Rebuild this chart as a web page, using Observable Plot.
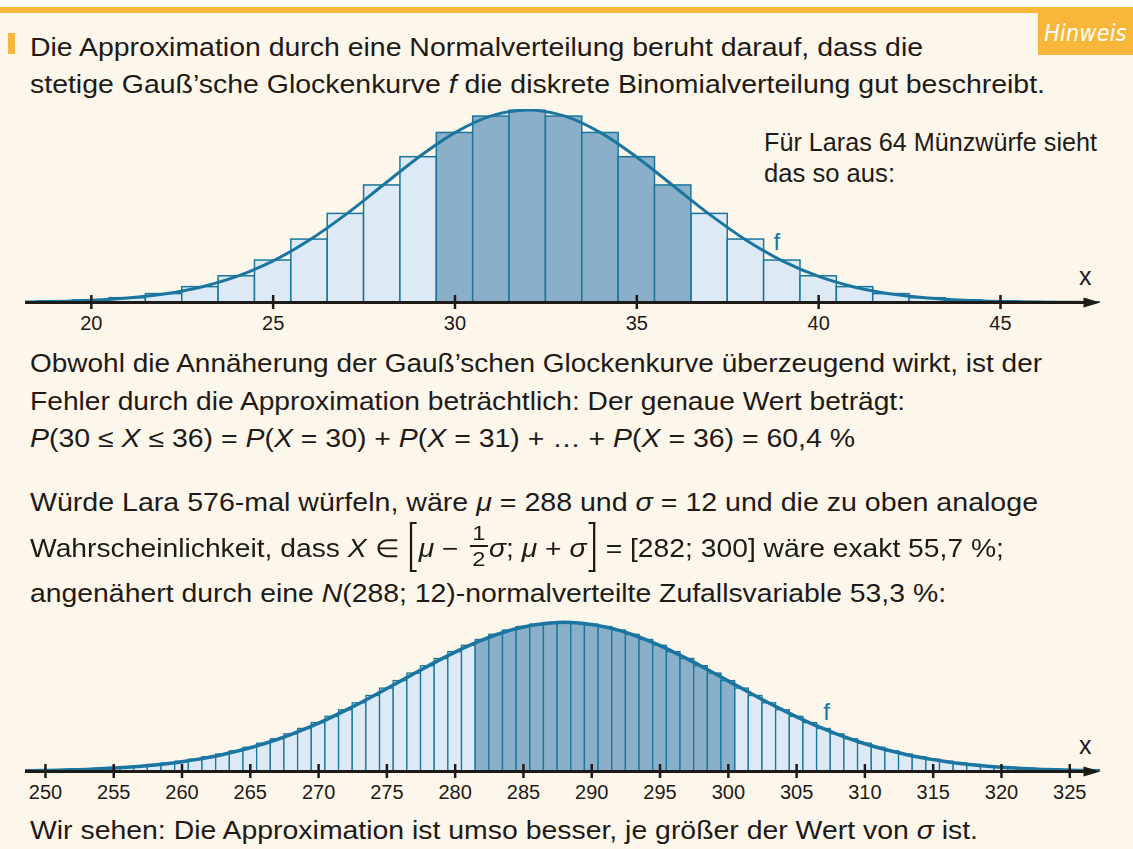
<!DOCTYPE html>
<html lang="de">
<head>
<meta charset="utf-8">
<script src="https://cdn.jsdelivr.net/npm/d3@7"></script>
<script src="https://cdn.jsdelivr.net/npm/@observablehq/plot@0.6"></script>
<style>
  html, body { margin: 0; padding: 0; background: #fdf6ea; }
  #page { position: relative; width: 1133px; height: 849px; overflow: hidden; background: #fdf6ea;
          font-family: "Liberation Sans", Arial, sans-serif; color: #1e1a17; }
  .topwhite { position: absolute; left: 0; top: 0; width: 1133px; height: 7px; background: #fff; }
  .topband { position: absolute; left: 0; top: 7px; width: 1133px; height: 6px; background: #f8b73b; }
  .tag { position: absolute; left: 1038px; top: 7px; width: 95px; height: 48px; background: #f8b73b;
         color: #fff; font-family: "DejaVu Sans Condensed", "DejaVu Sans", sans-serif; font-style: oblique;
         font-size: 23px; line-height: 52px; text-align: center; letter-spacing: 0.3px; }
  .marker { position: absolute; left: 8px; top: 33px; width: 7px; height: 21px; background: #f8b73b; }
  .t { position: absolute; white-space: nowrap; font-size: 25px; line-height: 35px; transform-origin: 0 0; }
  i { font-style: italic; }
  .brk { display: inline-block; position: relative; width: 10px; height: 1px; }
  .brk::before { content: ""; position: absolute; top: -34px; width: 6px; height: 50px; box-sizing: border-box;
                 border: 2.5px solid #1e1a17; }
  .brk.l::before { left: 2px; border-right: none; }
  .brk.r::before { left: 2px; border-left: none; }
  .frac { display: inline-block; position: relative; width: 16px; height: 1px; margin: 0 1px 0 3px; }
  .frac .n, .frac .d { position: absolute; left: 0; width: 100%; text-align: center; font-size: 21px; line-height: 20px; }
  .frac .n { top: -33px; }
  .frac .d { top: -7px; }
  .frac .bar { position: absolute; left: 0; width: 100%; top: -11px; height: 2px; background: #1e1a17; }
  .chart { position: absolute; left: 0; }
</style>
</head>
<body>
<div id="page">
  <div class="topwhite"></div>
  <div class="topband"></div>
  <div class="tag">Hinweis</div>
  <div class="marker"></div>

  <div class="t" style="left:30px;top:30px" data-r="923">Die Approximation durch eine Normalverteilung beruht darauf, dass die</div>
  <div class="t" style="left:30px;top:67px" data-r="1045">stetige Gauß’sche Glockenkurve <i>f</i> die diskrete Binomialverteilung gut beschreibt.</div>

  <div class="t" style="left:764px;top:125px" data-r="1097">Für Laras 64 Münzwürfe sieht</div>
  <div class="t" style="left:764px;top:156px" data-r="895">das so aus:</div>

  <div id="chart1" class="chart" style="top:95px"></div>

  <div class="t" style="left:30px;top:346px" data-r="1042">Obwohl die Annäherung der Gauß’schen Glockenkurve überzeugend wirkt, ist der</div>
  <div class="t" style="left:30px;top:384px" data-r="905">Fehler durch die Approximation beträchtlich: Der genaue Wert beträgt:</div>
  <div class="t" style="left:30px;top:421px" data-r="855"><i>P</i>(30 ≤ <i>X</i> ≤ 36) = <i>P</i>(<i>X</i> = 30) + <i>P</i>(<i>X</i> = 31) + … + <i>P</i>(<i>X</i> = 36) = 60,4 %</div>

  <div class="t" style="left:30px;top:485px" data-r="1038">Würde Lara 576-mal würfeln, wäre <i>μ</i> = 288 und <i>σ</i> = 12 und die zu oben analoge</div>
  <div class="t" style="left:30px;top:531px" data-r="1004">Wahrscheinlichkeit, dass <i>X</i> ∈ <span class="brk l"></span><i>μ</i> − <span class="frac"><span class="n">1</span><span class="bar"></span><span class="d">2</span></span><i>σ</i>; <i>μ</i> + <i>σ</i><span class="brk r"></span> = [282; 300] wäre exakt 55,7 %;</div>
  <div class="t" style="left:30px;top:576px" data-r="946">angenähert durch eine <i>N</i>(288; 12)-normalverteilte Zufallsvariable 53,3 %:</div>

  <div id="chart2" class="chart" style="top:600px"></div>

  <div class="t" style="left:30px;top:813px" data-r="978">Wir sehen: Die Approximation ist umso besser, je größer der Wert von <i>σ</i> ist.</div>
</div>
<script>
// ---------- data: chart 1 (64 coin tosses, n = 64, p = 0.5) ----------
const k1Start = 18;                       // first bar value of X
const p1 = [0.000195, 0.000473, 0.001064, 0.002229, 0.004356, 0.007955, 0.01359, 0.02174,
            0.03261, 0.04590, 0.06065, 0.07529, 0.08784, 0.09634, 0.09935, 0.09634, 0.08784,
            0.07529, 0.06065, 0.04590, 0.03261, 0.02174, 0.01359, 0.007955, 0.004356, 0.002229,
            0.001064, 0.000473, 0.000195];
const f1Start = 17;                       // first sample of Gauss curve f
const f1 = [0.0000882, 0.000218, 0.000507, 0.001108, 0.002273, 0.004383, 0.007935, 0.01350,
            0.02157, 0.03238, 0.04566, 0.06049, 0.07529, 0.08802, 0.09667, 0.09974, 0.09667,
            0.08802, 0.07529, 0.06049, 0.04566, 0.03238, 0.02157, 0.01350, 0.007935, 0.004383,
            0.002273, 0.001108, 0.000507, 0.000218, 0.0000882, 0.0000334];
const dark1 = [30, 36];
const ticks1 = [20, 25, 30, 35, 40, 45];
const xDomain1 = [18.19, 47.75];
const yDomain1 = [0, 0.1];
const fLabel1 = [{x: 38.85, y: 0.031, text: "f"}];

// ---------- data: chart 2 (n = 576, p = 0.5, mu = 288, sigma = 12) ----------
const k2Start = 250;
const p2 = [0.000221, 0.000287, 0.000369, 0.000472, 0.000600, 0.000757, 0.000949, 0.001181,
            0.001460, 0.001792, 0.002184, 0.002644, 0.003178, 0.003794, 0.004497, 0.005295,
            0.006190, 0.007187, 0.008286, 0.009488, 0.01079, 0.01218, 0.01366, 0.01521, 0.01683,
            0.01848, 0.02016, 0.02183, 0.02348, 0.02508, 0.02661, 0.02803, 0.02933, 0.03047,
            0.03143, 0.03221, 0.03277, 0.03311, 0.03323,
            0.03311, 0.03277, 0.03221, 0.03143, 0.03047, 0.02933, 0.02803, 0.02661, 0.02508,
            0.02348, 0.02183, 0.02016, 0.01848, 0.01683, 0.01521, 0.01366, 0.01218, 0.01079,
            0.009488, 0.008286, 0.007187, 0.006190, 0.005295, 0.004497, 0.003794, 0.003178,
            0.002644, 0.002184, 0.001792, 0.001460, 0.001181, 0.000949, 0.000757, 0.000600,
            0.000472, 0.000369, 0.000287, 0.000221];
const f2Start = 248;
const f2 = [0.000129, 0.000169, 0.000221, 0.000287, 0.000369, 0.000473, 0.000600, 0.000758,
            0.000950, 0.001182, 0.001461, 0.001793, 0.002185, 0.002645, 0.003180, 0.003795,
            0.004499, 0.005297, 0.006193, 0.007190, 0.008290, 0.009492, 0.010793, 0.012188,
            0.013668, 0.015221, 0.016834, 0.018488, 0.020164, 0.021841, 0.023493, 0.025095,
            0.026620, 0.028044, 0.029339, 0.030481, 0.031449, 0.032222, 0.032786, 0.033130,
            0.033245,
            0.033130, 0.032786, 0.032222, 0.031449, 0.030481, 0.029339, 0.028044, 0.026620,
            0.025095, 0.023493, 0.021841, 0.020164, 0.018488, 0.016834, 0.015221, 0.013668,
            0.012188, 0.010793, 0.009492, 0.008290, 0.007190, 0.006193, 0.005297, 0.004499,
            0.003795, 0.003180, 0.002645, 0.002185, 0.001793, 0.001461, 0.001182, 0.000950,
            0.000758, 0.000600, 0.000473, 0.000369, 0.000287, 0.000221, 0.000169, 0.000129];
const dark2 = [282, 300];
const ticks2 = [250, 255, 260, 265, 270, 275, 280, 285, 290, 295, 300, 305, 310, 315, 320, 325];
const xDomain2 = [248.54, 327.25];
const yDomain2 = [0, 0.035];
const fLabel2 = [{x: 307.2, y: 0.0133, text: "f"}];

// ---------- styling ----------
const INK = "#1e1a17";
const DARK = "#8aafc8";
const LIGHT = "#ddeaf6";
const EDGE = "#18769c";
const CURVE = "#1a76a0";
const arrowHead = { draw(ctx) { ctx.moveTo(0, 0); ctx.lineTo(-17, -5); ctx.lineTo(-17, 5); ctx.closePath(); } };

function histo({kStart, p, fStart, f, dark, ticks, xDomain, yDomain, fLabel, height, marginTop, marginBottom, barStroke, curveWidth}) {
  const bars = p.map((v, i) => ({k: kStart + i, p: v}));
  const curve = f.map((v, i) => ({x: fStart + i, y: v}));
  const isDark = d => d.k >= dark[0] && d.k <= dark[1];
  return Plot.plot({
    width: 1133, height, marginLeft: 25, marginRight: 33, marginTop, marginBottom,
    style: {background: "transparent", overflow: "visible", color: INK, fontFamily: "'Liberation Sans', Arial, sans-serif", fontSize: "20px"},
    x: {domain: xDomain},
    y: {domain: yDomain, axis: null},
    marks: [
      Plot.rectY(bars.filter(d => !isDark(d)), {x1: d => d.k - 0.5, x2: d => d.k + 0.5, y: "p", fill: LIGHT, stroke: EDGE, strokeWidth: barStroke, clip: true}),
      Plot.rectY(bars.filter(isDark), {x1: d => d.k - 0.5, x2: d => d.k + 0.5, y: "p", fill: DARK, stroke: EDGE, strokeWidth: barStroke}),
      Plot.line(curve, {x: "x", y: "y", stroke: CURVE, strokeWidth: curveWidth, curve: "catmull-rom", clip: true}),
      Plot.ruleY([0], {stroke: INK, strokeWidth: 3, insetRight: 10}),
      Plot.dot([xDomain[1]], {x: d => d, y: 0, symbol: arrowHead, fill: INK, stroke: null}),
      Plot.axisX({ticks, tickSize: 7, tickPadding: 6, fontSize: 20, strokeWidth: 2.5, stroke: INK, fill: INK, tickFormat: d => String(d), label: null}),
      Plot.axisX({ticks, tickSize: 7, dy: -7, strokeWidth: 2.5, stroke: INK, tickFormat: () => "", label: null}),
      Plot.text(fLabel, {x: "x", y: "y", text: "text", fill: CURVE, fontSize: 24}),
      Plot.text(["x"], {frameAnchor: "bottom-right", dx: -9, dy: -18, text: d => d, fontSize: 25, fill: INK})
    ]
  });
}

document.getElementById("chart1").append(histo({
  kStart: k1Start, p: p1, fStart: f1Start, f: f1, dark: dark1, ticks: ticks1,
  xDomain: xDomain1, yDomain: yDomain1, fLabel: fLabel1,
  height: 250, marginTop: 14, marginBottom: 43, barStroke: 1.5, curveWidth: 3
}));
document.getElementById("chart2").append(histo({
  kStart: k2Start, p: p2, fStart: f2Start, f: f2, dark: dark2, ticks: ticks2,
  xDomain: xDomain2, yDomain: yDomain2, fLabel: fLabel2,
  height: 220, marginTop: 14, marginBottom: 49, barStroke: 1.3, curveWidth: 3.5
}));

// fit each text line to the width it has in the reference
document.querySelectorAll("[data-r]").forEach(el => {
  const w = el.getBoundingClientRect().width;
  const target = +el.dataset.r - el.offsetLeft;
  el.style.transform = `scaleX(${(target / w).toFixed(4)})`;
});
</script>
</body>
</html>
